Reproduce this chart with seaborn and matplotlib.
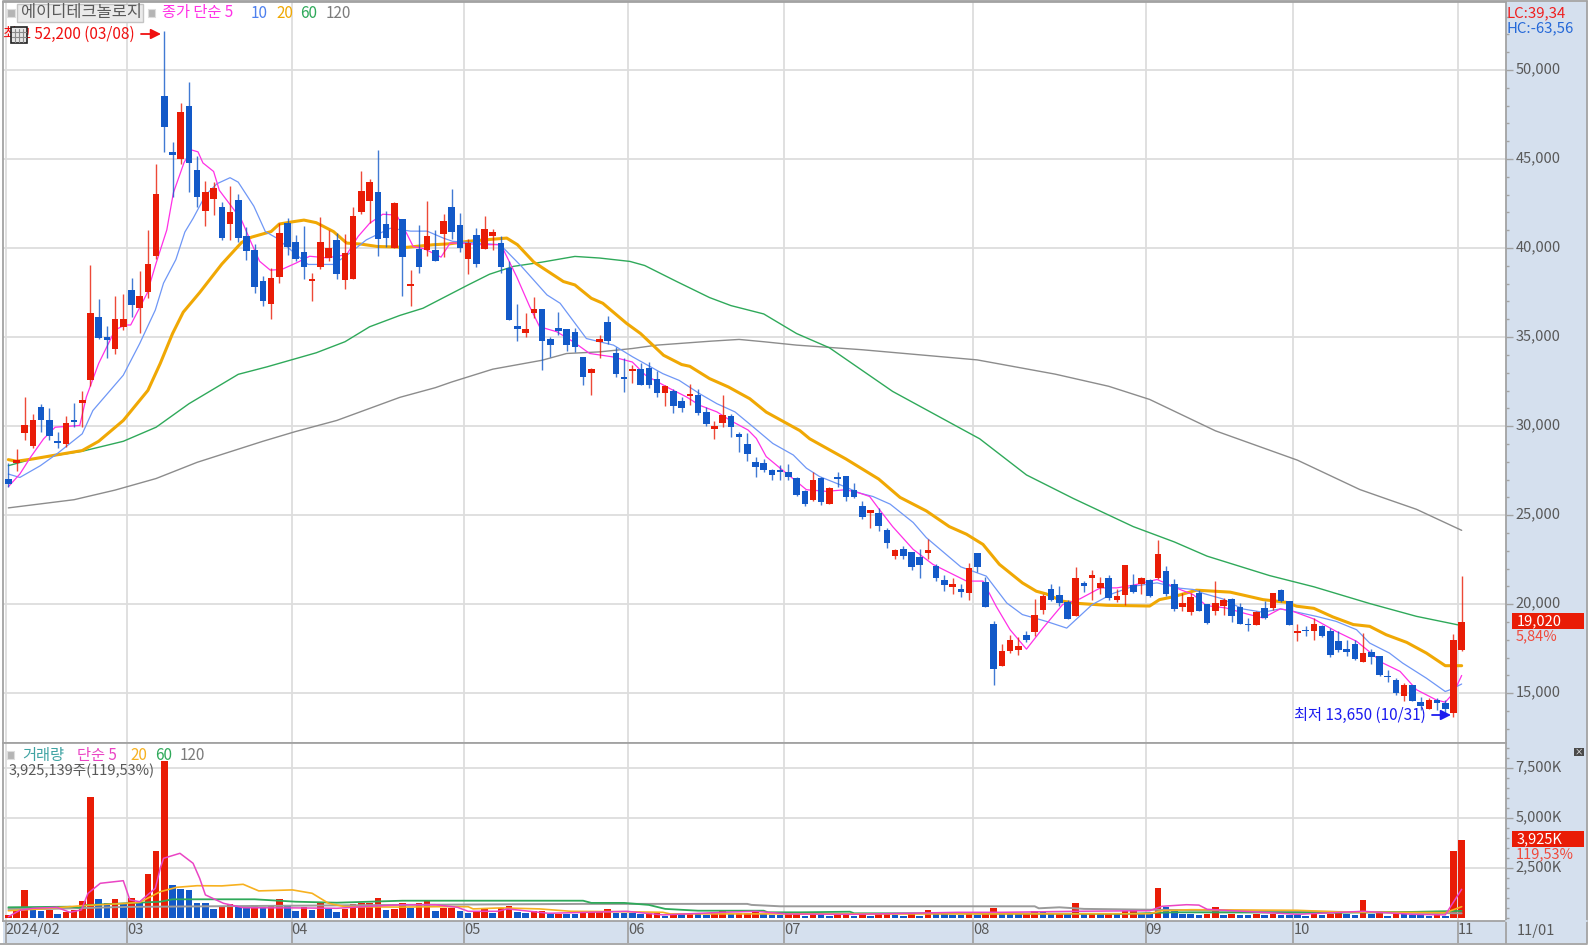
#Goal: redraw the daily candle chart with volume panel

#Step 1: load packages
import numpy as np
import pandas as pd
import seaborn as sns
import matplotlib
matplotlib.use("Agg")
import matplotlib.pyplot as plt
from matplotlib.lines import Line2D
from matplotlib.patches import Rectangle
from matplotlib.ticker import MultipleLocator, FuncFormatter
from matplotlib.transforms import ScaledTranslation

#Step 2: values (won, volume in thousand shares)
opens = [27030,27930,29600,28910,31070,30360,29150,28970,30340,31300,
32575,36150,35000,34320,35580,37630,36650,37560,39530,48540,
45400,44990,48000,44410,42080,42750,42310,41350,42720,40700,
39870,38150,36855,38390,41390,40350,39800,38170,38930,39450,
40430,38190,38240,42050,42630,43145,41350,39980,41630,37890,
39960,39900,39870,40800,42330,41280,39400,40715,39960,40680,
40280,38870,35640,35240,36330,36560,34870,35490,35430,35280,
33870,32990,34740,35860,34080,32740,33080,33230,33290,32670,
31860,31970,31410,31710,31770,30770,29830,30190,30580,29550,
28980,28010,27920,27530,27550,27450,27100,26340,25870,27080,
25650,27170,27210,26430,25490,25150,25150,24170,22700,23080,
22930,22670,22860,22140,21350,20960,20860,20640,22890,21240,
18890,16520,17370,17420,18250,18420,19700,20860,20510,20130,
19340,21220,21450,20940,21500,20220,20540,21070,21160,21370,
21450,21840,21130,19850,19550,20640,20040,19640,19890,20300,
19850,18890,18860,19790,19810,20790,20170,18400,18540,18520,
18760,18480,17920,17500,17790,16740,17340,17070,15990,15760,
14820,15440,14520,14130,14600,14450,13920,17410]

closes = [26750,28100,30075,30360,30320,29470,29080,30200,30230,31470,
36350,34940,34830,36000,36000,36800,37280,39120,43030,46800,
45210,47640,44790,42840,43160,43390,40590,42035,40590,39830,
37835,37040,38335,40830,40040,39410,38930,38280,40350,40000,
38520,39720,41810,43200,43700,40500,40540,42530,39500,38000,
38950,40700,39300,41540,40900,39980,40300,39120,41070,40920,
38910,35960,35450,35450,36580,34770,34550,35320,34550,34450,
32780,33200,34870,34770,32910,32630,33200,32290,32290,31860,
32250,31110,31010,31820,30730,30130,30000,30600,29960,29370,
28440,27680,27550,27270,27430,27170,26130,25650,26950,25720,
26520,27040,26000,26000,24910,25300,24400,23420,23040,22725,
22070,22180,23040,21450,21090,21150,20680,22050,22070,19830,
16370,17400,17970,17630,17990,19380,20450,20260,20060,19190,
21480,21030,21640,21200,20340,20450,22200,20680,21450,20450,
22840,20580,19740,20080,20380,19640,18950,20080,20260,19360,
18910,18820,19570,19230,20640,20210,18860,18480,18480,18890,
18200,17130,17410,17300,16920,17240,17040,16020,15890,15010,
15440,14540,14260,14630,14430,14130,17970,19020]

highs = [27930,28720,31640,30710,31260,31000,29660,30560,31280,31990,
39060,37130,35640,37280,37430,38310,38690,41000,44740,52200,
45960,48150,49330,45180,43780,43730,42590,43480,43020,41165,
40220,38430,38890,41390,41665,40740,41260,38610,41760,41020,
40830,40780,42310,44310,43890,45490,42090,42590,41630,38760,
41280,42650,41020,41890,43330,41975,40510,41130,41790,41070,
40700,39290,36840,36370,37270,36560,35020,36430,35430,35490,
33870,33250,35110,36200,34450,33850,33460,33570,33610,33100,
32290,32100,31630,32390,32100,31070,30300,31770,30710,29680,
29630,28290,28160,27620,27820,27860,27170,26390,27410,27120,
26610,27450,27210,26800,25790,25300,25380,24300,23120,23270,
22930,23120,23650,22240,21670,21480,21150,22330,22890,21540,
19040,17780,18250,18160,18480,20300,20600,21150,21010,20260,
22070,21300,21920,21520,21640,20830,22200,21710,21540,21430,
23610,22140,21390,20640,20640,20790,20040,21290,20360,20360,
20080,19230,19640,20170,20640,20860,20170,18910,18760,19230,
18860,18670,18480,17970,17970,18390,17490,17070,16290,15850,
15570,15440,14780,14730,14730,14630,18330,21580]

lows = [26600,27460,29250,28780,29660,29250,28780,28850,29940,29940,
32270,34870,33835,34040,35400,36150,35250,37180,39400,45400,
42870,44700,43160,42320,41250,41880,40430,40460,40315,39350,
37465,36760,36020,38020,39610,39260,38240,37040,38800,39260,
38240,37690,38240,41900,41390,39540,40055,39980,37280,36760,
38575,39540,39260,39500,40510,39760,38550,38930,39960,39900,
38590,35960,34760,35020,36090,33140,33890,35110,34230,34170,
32290,31730,33830,34600,32760,31920,32420,32290,32160,31630,
31150,30730,30790,31160,30600,30000,29270,29960,29400,28570,
28070,27120,27400,26990,26990,26990,26060,25500,25780,25590,
25650,26610,25780,25960,24810,24270,24120,23140,22520,22520,
21950,21470,22520,21300,20730,20600,20410,20260,21830,19830,
15470,16520,17250,17160,17880,18190,19470,20200,19920,19190,
19340,20680,20260,20580,20260,20130,19940,20640,20600,20410,
21390,20490,19600,19610,19420,19610,18910,19380,19420,18990,
18910,18480,18860,19170,19660,20130,18860,17920,18200,18010,
18140,17040,17300,17070,16850,16740,16660,15950,15610,14900,
14540,14540,14070,14130,14070,13880,13650,17355]

volume = [170,420,1420,450,370,430,230,320,420,870,
6050,980,780,980,750,1030,820,2230,3370,7870,
1670,1480,1420,780,775,480,620,700,630,500,
670,580,600,980,670,370,580,430,780,450,
300,450,700,780,790,1030,420,480,770,500,
750,880,380,500,505,380,250,330,520,270,
520,630,330,250,350,380,220,225,210,200,
330,332,335,470,270,260,250,240,265,270,
130,220,200,210,200,190,330,400,200,250,
260,400,200,190,180,220,225,130,330,180,
110,220,225,130,215,130,220,225,180,110,
220,140,430,300,200,190,180,300,160,300,
500,250,240,230,235,370,360,250,255,220,
770,220,225,215,220,210,370,470,215,200,
1500,580,480,230,200,190,200,550,180,200,
190,180,210,190,210,190,185,180,110,200,
150,210,370,200,190,920,230,250,110,210,
200,170,160,140,150,120,3370,3925]

# moving averages as (day number, value)
ma5 = [(0,26600),(1.4,27310),(2.7,28250),(4.3,29290),(5.7,29940),(8.7,30040),(9.5,31640),(11,33520),
(13,35400),(14.2,35680),(14.9,35680),(16.9,37460),(18,39160),(19.3,41020),(20.1,43100),(21.4,44800),
(22.3,45510),(23.1,45400),(23.7,44780),(25,44300),(25.7,43240),(27.4,42200),(28.4,41570),(29.6,40280),
(30.6,39260),(31.9,38760),(33.3,38800),(35.1,39170),(36.7,39540),(38.8,39450),(41.2,39630),(42.6,40650),
(44,41390),(45.6,41900),(47.3,41850),(48.5,40830),(49.3,40090),(50.7,39950),(52.7,39490),(53.8,40280),
(55,40280),(57.4,40190),(60,40190),(60.7,39530),(61.9,38400),(63.5,36710),(64.7,35580),(66.8,35300),
(68.8,34740),(70.8,34080),(73.6,33890),(76,33600),(77.6,32860),(80.4,32150),(82.6,31640),(84.2,31170),
(86.3,30800),(87.9,30330),(90.1,29780),(91.1,29310),(92.3,28290),(94,27640),(96,26890),(97.2,26430),
(99.6,26340),(102,26430),(103.7,26240),(104.9,26050),(105.9,25430),(107.7,24360),(110.2,23080),(112.6,22240),
(116.7,21300),(118.7,21300),(120.3,19890),(122,18570),(124,17480),(126,18660),(128.4,19980),(130.5,20300),
(133,20920),(135,20920),(137,21070),(139.9,21390),(142.7,20830),(144.3,20540),(145.9,19925),(148.3,19790),
(150.8,19460),(152.8,19230),(154.9,19740),(156.4,19610),(159,19170),(161.7,18480),(164.2,17920),(166.2,17170),
(167.4,16700),(169.5,16230),(171.5,15200),(173.9,14630),(175,14500),(176,15010),(177,16000)]

ma10 = [(0,27310),(1.4,27120),(3.9,27780),(5.9,28440),(9,29570),(10.3,30880),(14,32860),(16,34640),
(17.9,36520),(18.9,38030),(20.4,39350),(21.5,40900),(22.5,41665),(24,42960),(25.4,43610),(27,43950),
(28,43700),(29.9,42350),(31.3,40925),(32.7,40555),(36.5,39080),(39.6,39080),(41.6,39720),(43.6,40460),
(46.5,41110),(49,40950),(51,40950),(53,40555),(54.1,40380),(57,40280),(59.9,40190),(62.5,38970),
(65.6,37370),(67.2,36900),(70.4,34920),(73.7,34550),(76,33900),(79.7,32950),(81.7,32570),(84.2,31820),
(86.3,31260),(88.5,30800),(90.7,29960),(93.1,29030),(95.6,28380),(97.2,27640),(98.8,27170),(101.3,26710),
(103.7,26240),(105.3,26050),(107.4,25620),(110.2,24590),(111.8,23740),(116,22100),(119.1,21580),(121.6,20070),
(123.5,19420),(126.4,19040),(128.9,18660),(132,19980),(134.5,20600),(137,21010),(139.9,21200),(142.7,20900),
(144.3,20830),(145.6,20600),(147.9,20300),(150.3,19740),(152.8,19550),(154.9,19740),(156.4,19610),(159.3,19320),
(161.7,19040),(164.2,18570),(165.8,17820),(168.2,17260),(169.8,16700),(172.7,15850),(175,15100),(175.6,15200),(177,15520)]

ma20 = [(0,28120),(1,28030),(3,28160),(9,28630),(11,29150),(14,30320),(17,32010),(18.5,33520),
(20,35200),(21.3,36400),(23.3,37500),(26,39100),(28.4,40310),(29.6,40610),(32,40925),(33,41350),
(34.7,41480),(36,41570),(37.5,41425),(39.6,40925),(41.2,40280),(43,40220),(44.9,40090),(48.5,40040),
(51.7,40185),(53.8,40240),(56,40380),(60.7,40560),(62,40190),(64,39210),(67.6,38120),(69,37930),
(71,37180),(72.4,36900),(75.3,35770),(77,35200),(79.8,33980),(82,33460),(83,33360),(85.4,32670),
(87.7,32200),(90.3,31540),(92.3,30790),(96.4,29750),(97.6,29290),(102,28160),(106,27030),(108.6,26000),
(111.8,25240),(114.6,24360),(116.7,23930),(118.7,23360),(120.7,22240),(123.5,21200),(125.2,20730),(126.4,20580),
(128.4,20170),(130.5,20040),(133.8,19940),(139,19900),(140.2,20260),(141.8,20410),(144.7,20790),(148.8,20680),
(151,20450),(152.8,20260),(155.6,20110),(156.9,19890),(159,19770),(161.3,19290),(163.8,18860),(165.8,18760),
(167.8,18290),(170.3,17860),(172.7,17260),(175,16550),(177,16550)]

ma60 = [(0,27780),(3,28160),(9,28590),(14,29150),(18,29940),(22,31260),(28,32910),(31.5,33330),
(37.5,34120),(41,34740),(44,35580),(47.7,36220),(50.5,36620),(56,37930),(58.6,38530),(61.5,38970),
(65,39210),(69,39530),(72,39440),(75.7,39250),(77.5,39020),(81.4,38120),(85.4,37220),(88,36770),
(92,36300),(96,35200),(100,34400),(107.7,31950),(118.3,29290),(124,27260),(129.7,25940),(137,24360),
(142,23500),(146,22700),(153.6,21610),(159,20980),(165.8,20040),(171.5,19320),(177,18800)]

ma120 = [(0,25410),(8,25870),(13,26410),(18,27060),(23,27970),(31,29150),(35,29700),(40,30320),
(47.7,31620),(52,32160),(54,32480),(59,33200),(65,33700),(68,34080),(72,34170),(76,34360),
(79,34550),(85.5,34770),(89,34870),(92,34740),(96,34550),(104,34290),(118,33720),(127.5,32920),
(134,32240),(139,31500),(147,29740),(157,28090),(164.6,26440),(168,25890),(171.5,25330),(177,24150)]

vol_ma5 = [(0,80),(1.4,400),(3,500),(5.9,550),(7.5,300),(8.9,420),(9.7,1250),(11.2,1750),(14,1880),
(14.8,920),(16,830),(17.9,1500),(18.5,2500),(18.9,3000),(20.9,3250),(22.5,2750),(23.3,2000),(24,1170),
(26.2,750),(28.6,530),(35,520),(40,500),(44,600),(48,680),(52,680),(54.7,550),(56,350),(59.6,350),
(60.8,470),(65.8,250),(75.3,350),(79.7,170),(87,300),(91,350),(95,215),(103,200),(115.7,300),(121,300),
(130,350),(139,380),(140.5,600),(143.5,680),(145,660),(146,450),(157,200),(165,350),(171,200),(175,170),(177,1450)]

vol_ma20 = [(0,380),(4,470),(9,630),(14.5,750),(16,800),(18.5,1330),(20.5,1550),(23,1630),(26,1620),
(28.6,1700),(30.5,1370),(34.6,1420),(37,1250),(39,750),(41,580),(48,560),(52,580),(56,580),(56.6,470),
(60,520),(64.7,470),(68.5,350),(75,330),(79.7,300),(80.6,220),(96,220),(120,220),(139,230),(140.5,380),
(144,430),(157,400),(162,320),(175,280),(177,580)]

vol_ma60 = [(0,550),(7.5,580),(8.7,530),(9.5,660),(18.5,830),(20,950),(30,950),(35,830),(40,780),(48,880),
(70,880),(71,770),(75,770),(78,670),(80,470),(84,380),(92,380),(92.5,300),(96.5,300),(102.5,330),(103,250),
(110,250),(136,220),(142,300),(162,280),(171,320),(177,370)]

vol_ma120 = [(0,470),(5,470),(14.5,570),(48,670),(70,720),(90,720),(90.5,670),(94,600),(125,600),(125.5,500),
(128,550),(131,470),(139,430),(177,250)]

# month changes sit between these day numbers
month_edges = [-0.3, 14.5, 34.5, 55.5, 75.5, 94.5, 117.5, 138.5, 156.5, 176.5]
month_labels = ["2024/02", "03", "04", "05", "06", "07", "08", "09", "10", "11"]
price_ticks = [15000, 20000, 25000, 30000, 35000, 40000, 45000, 50000]
vol_ticks = [2500, 5000, 7500]

#Step 3: tables
candles = pd.DataFrame({"open": opens, "high": highs, "low": lows, "close": closes, "volume": volume})
candles["day"] = np.arange(len(candles))
candles["up"] = candles.close >= candles.open
candles["vol_up"] = candles.volume >= candles.volume.shift(1).fillna(0)

RED = "#E91C06"
BLUE = "#1259C8"
GRID = "#DDDDDD"
GREY_TXT = "#595959"
BAND = "#D5E0EE"
EDGE = "#A3A3A3"
W, H = 1591, 947

sns.set_theme(style="whitegrid", rc={"grid.color": GRID, "grid.linewidth": 1.3, "axes.edgecolor": EDGE, "axes.linewidth": 1.3})
plt.rcParams["font.family"] = ["Noto Sans CJK KR", "DejaVu Sans"]

fig = plt.figure(figsize=(W / 100, H / 100), dpi=100, facecolor="white")

def box(x0, y0, x1, y1):
    return [x0 / W, 1 - y1 / H, (x1 - x0) / W, (y1 - y0) / H]

def put(x, y, s, color=GREY_TXT, size=11, **kw):
    fig.text(x / W, 1 - y / H, s, color=color, fontsize=size, va="center", **kw)

def rect(x0, y0, x1, y1, fc, ec="none", lw=0, z=-1):
    fig.add_artist(Rectangle((x0 / W, 1 - y1 / H), (x1 - x0) / W, (y1 - y0) / H, transform=fig.transFigure,
                             facecolor=fc, edgecolor=ec, linewidth=lw, zorder=z))

def rule(x0, y0, x1, y1, color=EDGE, lw=1.3, z=5):
    fig.add_artist(Line2D([x0 / W, x1 / W], [1 - y0 / H, 1 - y1 / H], color=color, lw=lw, zorder=z))

def arrow(x0, x1, y, color):
    ax.annotate("", xy=(x1 / W, 1 - y / H), xytext=(x0 / W, 1 - y / H), xycoords="figure fraction",
                arrowprops=dict(arrowstyle="-|>", color=color, lw=1.3, shrinkA=0, shrinkB=0, mutation_scale=15), zorder=20)

# bands behind the axes
rect(1506, 2, 1587, 943, BAND)
rect(3, 920.7, 1506, 943, BAND)

ax = fig.add_axes(box(3, 2, 1506, 743))
axv = fig.add_axes(box(3, 743, 1506, 920.7))

#Step 4: price panel
for table, color, lw in [(ma120, "#8C8C8C", 1.0), (ma60, "#2FA95A", 1.0), (ma20, "#F0A804", 2.2),
                         (ma10, "#6F97F6", 0.9), (ma5, "#FF30E6", 0.9)]:
    line = pd.DataFrame(table, columns=["day", "value"])
    sns.lineplot(data=line, x="day", y="value", color=color, lw=lw, estimator=None, errorbar=None, ax=ax, zorder=2)

colors = np.where(candles.up, RED, BLUE)
ax.vlines(candles.day, candles.low, candles.high, colors=colors, lw=1.0, alpha=0.8, zorder=3)
ax.bar(candles.day, (candles.close - candles.open).abs(), bottom=candles[["open", "close"]].min(axis=1),
       width=0.8, color=colors, linewidth=0, zorder=4)

ax.set_xlim(-0.65, 182.4)
ax.set_ylim(12209, 53816)
ax.set_xticks(month_edges)
ax.tick_params(axis="x", length=0, labelbottom=False)
ax.yaxis.tick_right()
ax.set_yticks(price_ticks)
ax.yaxis.set_minor_locator(MultipleLocator(1000))
ax.yaxis.set_major_formatter(FuncFormatter(lambda v, _: f"{v:,.0f}"))
ax.tick_params(axis="y", which="major", length=5, width=1, color=EDGE, labelcolor=GREY_TXT, labelsize=10.5, pad=2, right=True)
ax.tick_params(axis="y", which="minor", length=2.5, width=1, color=EDGE, right=True)
ax.set_xlabel("")
ax.set_ylabel("")

#Step 5: volume panel
candles["kind"] = np.where(candles.vol_up, "up", "down")
sns.barplot(data=candles, x="day", y="volume", hue="kind", palette={"up": RED, "down": BLUE}, dodge=False,
            native_scale=True, width=0.8, saturation=1, legend=False, linewidth=0, ax=axv, zorder=3)
for table, color, lw in [(vol_ma120, "#9B9B9B", 1.4), (vol_ma60, "#2FA95A", 1.3), (vol_ma20, "#F7B120", 1.2), (vol_ma5, "#EA45C4", 1.1)]:
    line = pd.DataFrame(table, columns=["day", "value"])
    sns.lineplot(data=line, x="day", y="value", color=color, lw=lw, estimator=None, errorbar=None, ax=axv, zorder=4)

axv.set_xlim(-0.65, 182.4)
axv.set_ylim(-120, 8765)
axv.set_xticks(month_edges)
axv.set_xticklabels(month_labels, ha="left", color=GREY_TXT, fontsize=10.5)
axv.tick_params(axis="x", length=16, width=1.3, color=EDGE, pad=-14, bottom=True)
axv.yaxis.tick_right()
axv.set_yticks(vol_ticks)
axv.yaxis.set_minor_locator(MultipleLocator(500))
axv.yaxis.set_major_formatter(FuncFormatter(lambda v, _: f"{v:,.0f}K"))
axv.tick_params(axis="y", which="major", length=5, width=1, color=EDGE, labelcolor=GREY_TXT, labelsize=10.5, pad=2, right=True)
axv.tick_params(axis="y", which="minor", length=2.5, width=1, color=EDGE, right=True)
axv.set_xlabel("")
axv.set_ylabel("")

# tick labels sit a little higher in the reference
lift = ScaledTranslation(0, 1.5 / 72, fig.dpi_scale_trans)
for panel in [ax, axv]:
    for label in panel.get_yticklabels():
        label.set_transform(label.get_transform() + lift)

#Step 6: frame and text
rule(1587, 1, 1587, 943)
rule(3, 1.5, 1587, 1.5)
rule(0, 943.5, 1587, 943.5)
rule(1506, 920, 1506, 943)
rule(1506, 920.7, 1587, 920.7, color=BAND)

# price legend
rect(7, 9, 15, 17, "#B5B5B5", ec="#DDDDDD", lw=0.8, z=6)
rect(17, 4, 143, 22, "#EAEAEA", ec="#C4C4C4", lw=1, z=6)
put(21, 13, "에이디테크놀로지", size=11.8, zorder=7)
rect(148, 9, 155, 17, "#B5B5B5", ec="#DDDDDD", lw=0.8, z=6)
put(162, 13, "종가 단순 5", color="#FF30E6", zorder=7)
put(251, 13, "10", color="#4E80EE", zorder=7)
put(276, 13, "20", color="#F0A804", zorder=7)
put(300, 13, "60", color="#2FA95A", zorder=7)
put(326, 13, "120", color="#7C7C7C", zorder=7)

# high and low marks
put(3, 34, "최고 52,200 (03/08)", color="#F01010", zorder=7)
arrow(141, 161, 34, "#F01010")
put(1294, 715, "최저 13,650 (10/31)", color="#1C1CF0", zorder=7)
arrow(1432, 1451, 715, "#1C1CF0")

# small table icon on top of the high label
rect(10.5, 27.5, 27, 43.5, "#E6E6E6", ec="#222222", lw=1.2, z=8)
for gx in [15, 19, 23]:
    rule(gx, 29, gx, 42, color="#8A8A8A", lw=0.8, z=9)
for gy in [32, 37]:
    rule(12, gy, 26, gy, color="#8A8A8A", lw=0.8, z=9)

# right band labels
put(1507, 13, "LC:39,34", color="#F01E1E", size=10.8, zorder=7)
put(1507, 28, "HC:-63,56", color="#2468D8", size=10.8, zorder=7)
rect(1512, 613, 1584, 629, RED, z=6)
put(1517, 621, "19,020", color="white", size=10.5, zorder=7)
put(1516, 636, "5,84%", color="#F04A3C", size=10.5, zorder=7)
rect(1512, 831, 1584, 847, RED, z=6)
put(1517, 839, "3,925K", color="white", size=10.5, zorder=7)
put(1516, 854, "119,53%", color="#F04A3C", size=10.5, zorder=7)
put(1517, 931, "11/01", size=10.5)
rect(1574, 748, 1584, 756, "#4A4A4A", z=6)
put(1579, 752, "×", color="white", size=6, ha="center", zorder=7)

# volume legend
rect(7, 751, 14, 759, "#B5B5B5", ec="#DDDDDD", lw=0.8, z=6)
put(22, 755, "거래량", color="#3FA3A3", zorder=7)
put(77, 755, "단순 5", color="#EA45C4", zorder=7)
put(130, 755, "20", color="#F7B120", zorder=7)
put(155, 755, "60", color="#2FA95A", zorder=7)
put(180, 755, "120", color="#7C7C7C", zorder=7)
put(9, 771, "3,925,139주(119,53%)", size=10.5, zorder=7)

fig.savefig("out.png", dpi=100)
